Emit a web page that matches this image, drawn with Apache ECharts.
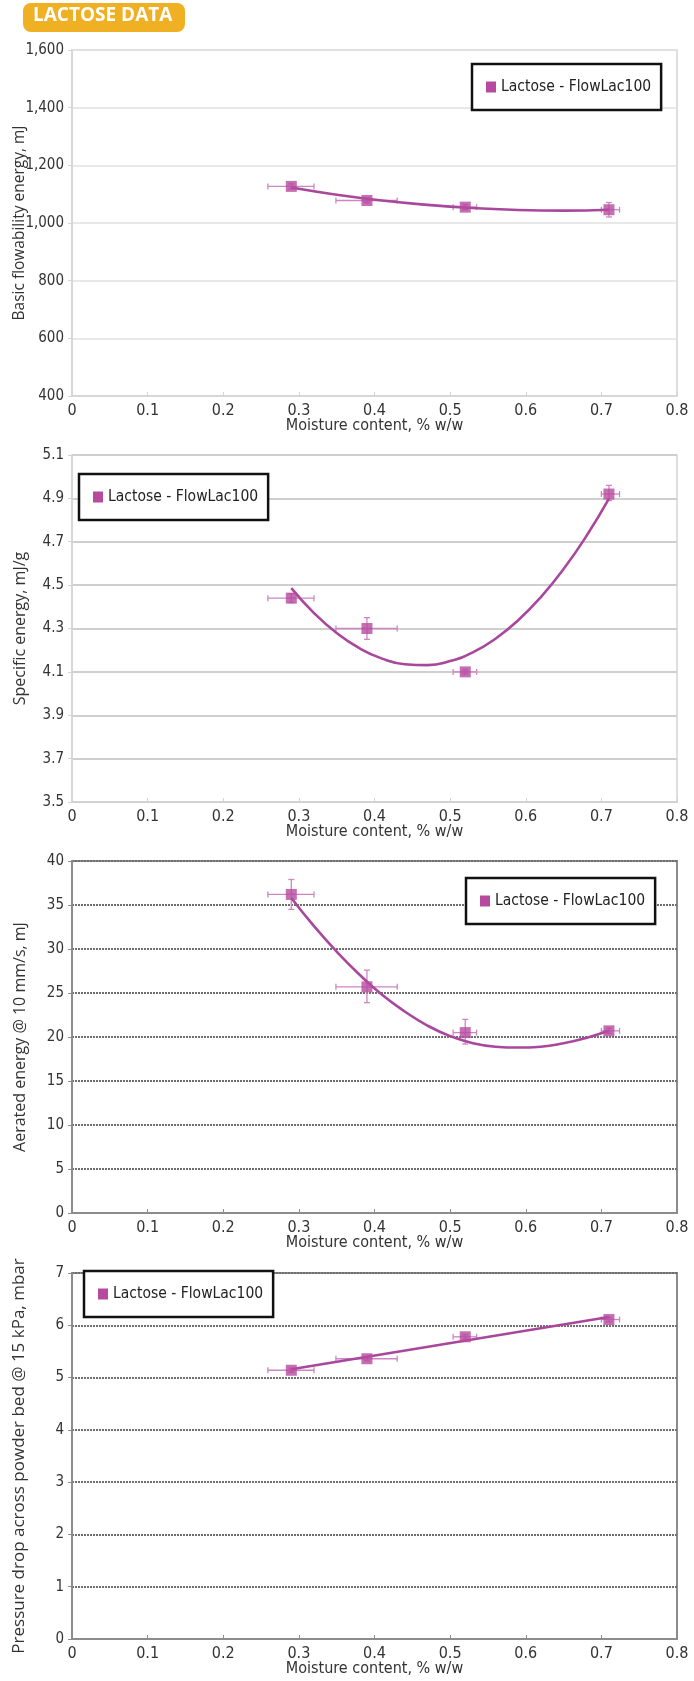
<!DOCTYPE html>
<html>
<head>
<meta charset="utf-8">
<script src="https://cdn.jsdelivr.net/npm/echarts@6/dist/echarts.min.js"></script>
<style>
  html, body { margin: 0; padding: 0; background: #fff; }
  #chart { width: 694px; height: 1681px; }
</style>
</head>
<body>
<div id="chart"></div>
<script>
// moisture content, % w/w (same four samples in every panel)
const moisture = [0.29, 0.39, 0.52, 0.71];
const moistureLo = [0.259, 0.349, 0.504, 0.700];
const moistureHi = [0.320, 0.430, 0.535, 0.724];

// basic flowability energy, mJ
const bfe = [1127, 1078, 1055, 1046];
const bfeLo = [1118, 1070, 1046, 1021];
const bfeHi = [1136, 1086, 1064, 1071];
const bfeTrendX = [0.29, 0.35, 0.41, 0.47, 0.53, 0.59, 0.65, 0.71];
const bfeTrend = [1123, 1098, 1078, 1063, 1052, 1045, 1043, 1046];

// specific energy, mJ/g
const se = [4.44, 4.30, 4.10, 4.92];
const seLo = [4.42, 4.25, 4.09, 4.89];
const seHi = [4.46, 4.35, 4.11, 4.96];
const seTrendX = [0.29, 0.32, 0.35, 0.38, 0.41, 0.44, 0.47, 0.50, 0.53, 0.56, 0.59, 0.62, 0.65, 0.68, 0.71];
const seTrend = [4.486, 4.371, 4.279, 4.209, 4.161, 4.135, 4.131, 4.150, 4.190, 4.253, 4.338, 4.445, 4.574, 4.725, 4.899];

// aerated energy @ 10 mm/s, mJ
const ae = [36.2, 25.7, 20.5, 20.7];
const aeLo = [34.5, 23.9, 19.2, 20.4];
const aeHi = [37.9, 27.6, 22.0, 21.0];
const aeTrendX = [0.29, 0.32, 0.35, 0.38, 0.41, 0.44, 0.47, 0.50, 0.53, 0.56, 0.59, 0.62, 0.65, 0.68, 0.71];
const aeTrend = [35.8, 32.6, 29.7, 27.1, 24.8, 22.9, 21.3, 20.1, 19.3, 18.9, 18.8, 18.9, 19.3, 19.9, 20.7];

// pressure drop across powder bed @ 15 kPa, mbar
const pd = [5.14, 5.36, 5.78, 6.11];
const pdLo = [5.10, 5.32, 5.74, 6.07];
const pdHi = [5.18, 5.40, 5.82, 6.15];
const pdTrendX = [0.29, 0.71];
const pdTrend = [5.16, 6.16];

const xTicks = [0, 0.1, 0.2, 0.3, 0.4, 0.5, 0.6, 0.7, 0.8];
const seriesName = 'Lactose - FlowLac100';
const yTitles = [
  'Basic flowability energy, mJ',
  'Specific energy, mJ/g',
  'Aerated energy @ 10 mm/s, mJ',
  'Pressure drop across powder bed @ 15 kPa, mbar'
];
const yTitleSizes = [15.5, 16, 16, 17];
const xTitle = 'Moisture content, % w/w';

const markColor = '#b64a9f';
const lineColor = '#a9479d';
const errColor = '#cc86c0';
const narrow = '"Liberation Sans Narrow", "DejaVu Sans Condensed", sans-serif';

const grids = [
  { left: 72, top: 50, width: 605, height: 346 },
  { left: 72, top: 455, width: 605, height: 347 },
  { left: 72, top: 861, width: 605, height: 352 },
  { left: 72, top: 1273, width: 605, height: 366 }
];
const yRanges = [
  { min: 400, max: 1600, interval: 200 },
  { min: 3.5, max: 5.1, interval: 0.2 },
  { min: 0, max: 40, interval: 5 },
  { min: 0, max: 7, interval: 1 }
];
const legendPos = [
  { left: 472, top: 64 },
  { left: 79, top: 474 },
  { left: 466, top: 878 },
  { left: 84, top: 1271 }
];

function panelStyle(i) {
  const dark = i >= 2;
  return {
    border: dark ? '#8c8c8c' : '#d4d4d4',
    grid: dark ? '#6e6e6e' : (i === 1 ? '#cfcfcf' : '#e0e0e0'),
    gridType: dark ? [2, 1] : 'solid',
    gridWidth: dark ? 2 : (i === 1 ? 2 : 1.5)
  };
}

function errorBars(i, ys, lo, hi) {
  return {
    type: 'custom',
    xAxisIndex: i,
    yAxisIndex: i,
    silent: true,
    z: 1,
    data: moisture.map((x, k) => [x, ys[k], moistureLo[k], moistureHi[k], lo[k], hi[k]]),
    encode: { x: [0, 2, 3], y: [1, 4, 5] },
    renderItem: function (params, api) {
      const x = api.value(0), y = api.value(1);
      const l = api.coord([api.value(2), y]);
      const r = api.coord([api.value(3), y]);
      const b = api.coord([x, api.value(4)]);
      const t = api.coord([x, api.value(5)]);
      const c = 3;
      const style = { stroke: errColor, lineWidth: 1.3 };
      const seg = (x1, y1, x2, y2) => ({ type: 'line', shape: { x1, y1, x2, y2 }, style });
      return {
        type: 'group',
        children: [
          seg(l[0], l[1], r[0], r[1]),
          seg(l[0], l[1] - c, l[0], l[1] + c),
          seg(r[0], r[1] - c, r[0], r[1] + c),
          seg(b[0], b[1], t[0], t[1]),
          seg(b[0] - c, b[1], b[0] + c, b[1]),
          seg(t[0] - c, t[1], t[0] + c, t[1])
        ]
      };
    }
  };
}

const values = [bfe, se, ae, pd];
const lows = [bfeLo, seLo, aeLo, pdLo];
const highs = [bfeHi, seHi, aeHi, pdHi];
const trendX = [bfeTrendX, seTrendX, aeTrendX, pdTrendX];
const trendY = [bfeTrend, seTrend, aeTrend, pdTrend];

const xAxes = [], yAxes = [], series = [], legends = [];
grids.forEach((g, i) => {
  const s = panelStyle(i);
  g.show = true;
  g.containLabel = false;
  g.outerBoundsMode = 'none';
  g.borderColor = s.border;
  g.borderWidth = i >= 2 ? 2 : 1.5;
  g.backgroundColor = 'transparent';

  xAxes.push({
    type: 'value', gridIndex: i,
    min: xTicks[0], max: xTicks[xTicks.length - 1], interval: 0.1,
    name: xTitle, nameLocation: 'middle', nameGap: 22, nameMoveOverlap: false,
    nameTextStyle: { fontFamily: narrow, fontSize: 16, color: '#333' },
    axisLine: { lineStyle: { color: s.border, width: i >= 2 ? 2 : 1.5 } },
    axisTick: { show: true, inside: true, length: 4, lineStyle: { color: s.border } },
    axisLabel: { fontFamily: narrow, fontSize: 16, color: '#333', margin: 7 },
    splitLine: { show: false }
  });
  yAxes.push({
    type: 'value', gridIndex: i,
    min: yRanges[i].min, max: yRanges[i].max, interval: yRanges[i].interval,
    name: yTitles[i], nameLocation: 'middle', nameGap: 44, nameRotate: 90,
    nameMoveOverlap: false,
    nameTextStyle: { fontFamily: '"Open Sans", sans-serif', fontSize: yTitleSizes[i], color: '#333' },
    axisLine: { show: true, lineStyle: { color: s.border, width: i >= 2 ? 2 : 1.5 } },
    axisTick: { show: true, length: 4, lineStyle: { color: s.border } },
    axisLabel: { fontFamily: narrow, fontSize: 15, color: '#333', margin: 8 },
    splitLine: { show: true, lineStyle: { color: s.grid, type: s.gridType, width: s.gridWidth } }
  });

  series.push(errorBars(i, values[i], lows[i], highs[i]));
  series.push({
    name: seriesName, type: 'line', xAxisIndex: i, yAxisIndex: i,
    data: trendX[i].map((x, k) => [x, trendY[i][k]]),
    smooth: i === 3 ? false : true,
    showSymbol: false, symbol: 'none',
    lineStyle: { color: lineColor, width: 2.6 },
    itemStyle: { color: markColor },
    z: 2, silent: true
  });
  series.push({
    name: seriesName, type: 'scatter', xAxisIndex: i, yAxisIndex: i,
    data: moisture.map((x, k) => [x, values[i][k]]),
    symbol: 'rect', symbolSize: 11,
    itemStyle: { color: markColor },
    z: 3
  });

  legends.push({
    data: [{ name: seriesName, icon: 'rect', itemStyle: { color: markColor } }],
    left: legendPos[i].left, top: legendPos[i].top,
    orient: 'vertical',
    padding: [15, 10, 15, 14],
    borderColor: '#111', borderWidth: 2.5,
    backgroundColor: '#fff',
    itemWidth: 10, itemHeight: 11, itemGap: 5,
    textStyle: { fontFamily: narrow, fontSize: 15.5, color: '#222' },
    selectedMode: false
  });
});

const myChart = echarts.init(document.getElementById('chart'), null, { renderer: 'canvas' });
myChart.setOption({
  animation: false,
  grid: grids,
  xAxis: xAxes,
  yAxis: yAxes,
  legend: legends,
  series: series,
  graphic: [
    {
      type: 'rect', left: 23, top: 3,
      shape: { width: 162, height: 29, r: 8 },
      style: { fill: '#f0b023' }
    },
    {
      type: 'text', left: 33, top: 6,
      style: {
        text: 'LACTOSE DATA', fill: '#fff',
        font: 'bold 19px "Open Sans", sans-serif'
      }
    }
  ]
});
</script>
</body>
</html>
